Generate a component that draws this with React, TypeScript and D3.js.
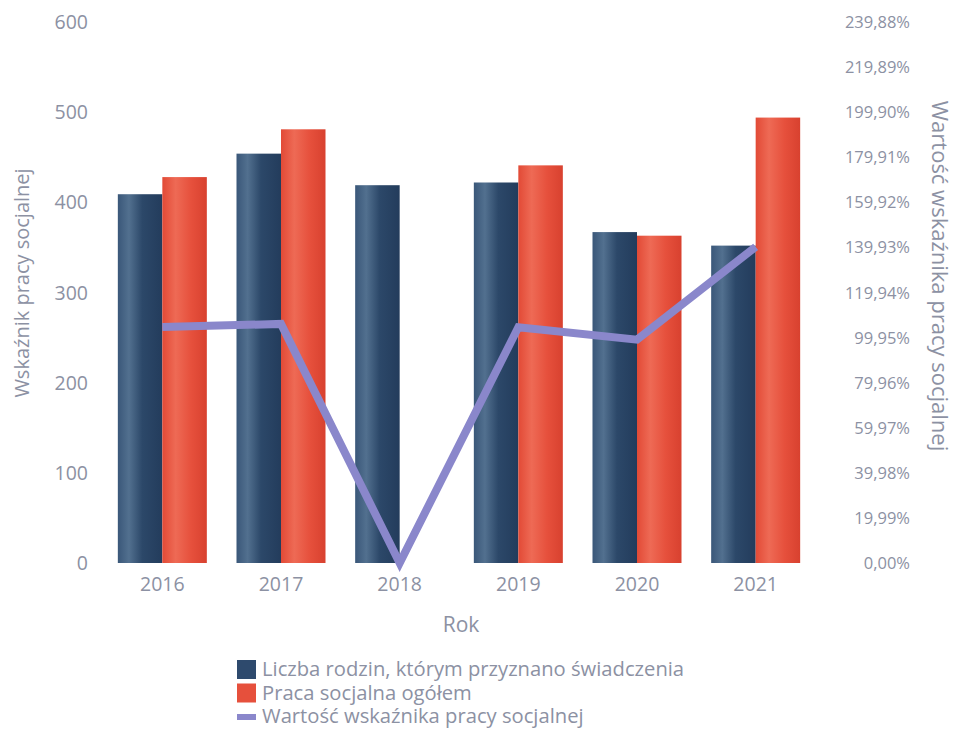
import React from 'react';
import * as d3 from 'd3';

const years = ['2016', '2017', '2018', '2019', '2020', '2021'];
const families = [409, 454, 419, 422, 367, 352];
const socialWork = [428, 481, 0, 441, 363, 494];
const indicator = [104.6, 106.0, 0, 104.5, 99.0, 140.2];
const rightTicks = [0, 19.99, 39.98, 59.97, 79.96, 99.95, 119.94, 139.93, 159.92, 179.91, 199.9, 219.89, 239.88];
const leftTicks = [0, 100, 200, 300, 400, 500, 600];
const legendLabels = [
  'Liczba rodzin, którym przyznano świadczenia',
  'Praca socjalna ogółem',
  'Wartość wskaźnika pracy socjalnej',
];

const W = 957;
const H = 729;
const margin = { top: 22, right: 142, bottom: 166, left: 103 };
const font = '"Open Sans", "DejaVu Sans", sans-serif';

const colors = {
  navy: '#2e4a6d',
  red: '#e6503c',
  line: '#8a87cb',
  text: '#8c91a3',
};

const fmtPct = (v: number) => v.toFixed(2).replace('.', ',') + '%';

export default function App() {
  const x = d3.scaleBand<string>().domain(years).range([margin.left, W - margin.right]).paddingInner(0.25).paddingOuter(0.125);
  const y = d3.scaleLinear().domain([0, 600]).range([H - margin.bottom, margin.top]);
  const y2 = d3.scaleLinear().domain([0, 239.88]).range([H - margin.bottom, margin.top]);
  const bw = x.bandwidth() / 2;

  const line = d3.line<number>()
    .x((_, i) => (x(years[i]) as number) + bw)
    .y(d => y2(d));

  return (
    <svg width={W} height={H} style={{ position: 'absolute', left: 0, top: 0, background: '#fff' }} fontFamily={font}>
      <defs>
        <linearGradient id="gNavy" x1="0" x2="1" y1="0" y2="0">
          <stop offset="0" stopColor="#3a5779" />
          <stop offset="0.25" stopColor="#52708f" />
          <stop offset="0.55" stopColor="#2c4869" />
          <stop offset="1" stopColor="#233c5c" />
        </linearGradient>
        <linearGradient id="gRed" x1="0" x2="1" y1="0" y2="0">
          <stop offset="0" stopColor="#e24a36" />
          <stop offset="0.3" stopColor="#ee6a55" />
          <stop offset="0.65" stopColor="#e6503c" />
          <stop offset="1" stopColor="#d8412f" />
        </linearGradient>
      </defs>

      {years.map((yr, i) => {
        const x0 = x(yr) as number;
        return (
          <g key={yr}>
            <rect x={x0} y={y(families[i])} width={bw} height={y(0) - y(families[i])} fill="url(#gNavy)" />
            {socialWork[i] > 0 && (
              <rect x={x0 + bw} y={y(socialWork[i])} width={bw} height={y(0) - y(socialWork[i])} fill="url(#gRed)" />
            )}
            <text x={x0 + bw} y={y(0) + 28} textAnchor="middle" fontSize={19.5} fill={colors.text}>{yr}</text>
          </g>
        );
      })}

      <path d={line(indicator) as string} fill="none" stroke={colors.line} strokeWidth={8} strokeLinejoin="miter" />

      {leftTicks.map(t => (
        <text key={t} x={88} y={y(t) + 7} textAnchor="end" fontSize={19.5} fill={colors.text}>{t}</text>
      ))}
      {rightTicks.map(t => (
        <text key={t} x={910} y={y2(t) + 6} textAnchor="end" fontSize={16.5} fill={colors.text}>{fmtPct(t)}</text>
      ))}

      <text transform={`translate(29,283) rotate(-90)`} textAnchor="middle" fontSize={20} fill={colors.text}>
        Wskaźnik pracy socjalnej
      </text>
      <text transform={`translate(932,276) rotate(90)`} textAnchor="middle" fontSize={22} fill={colors.text}>
        Wartość wskaźnika pracy socjalnej
      </text>
      <text x={461} y={632} textAnchor="middle" fontSize={21} fill={colors.text}>Rok</text>

      {legendLabels.map((lbl, i) => {
        const ly = 669 + i * 23.5;
        return (
          <g key={lbl}>
            {i < 2 ? (
              <rect x={237} y={ly - 9} width={19} height={19} fill={i === 0 ? colors.navy : colors.red} />
            ) : (
              <rect x={237} y={ly - 2} width={19} height={6} fill={colors.line} />
            )}
            <text x={262} y={ly + 7} fontSize={20.2} fill={colors.text}>{lbl}</text>
          </g>
        );
      })}
    </svg>
  );
}
